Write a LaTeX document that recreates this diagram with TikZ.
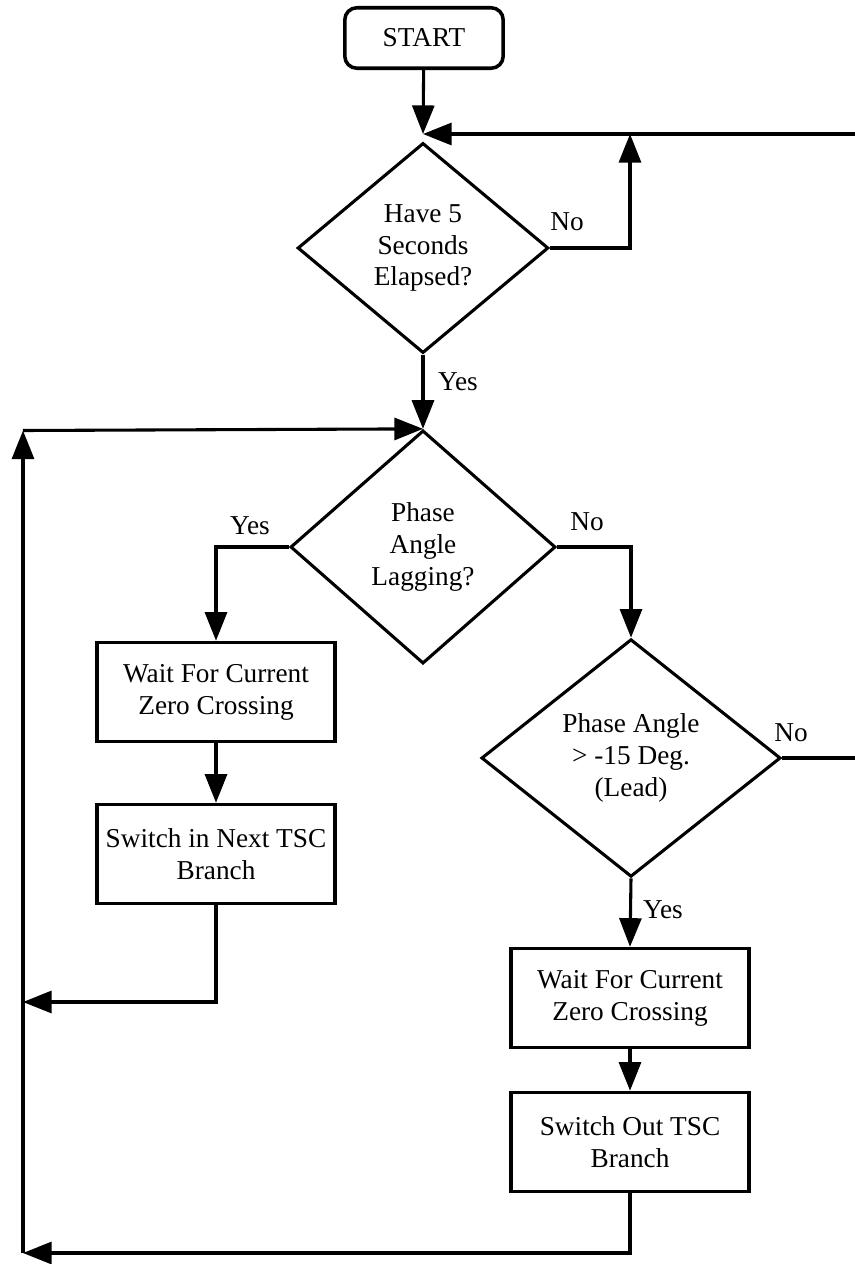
\documentclass[tikz,border=0pt]{standalone}
\usepackage{fontspec}
\setmainfont{Liberation Serif}
\usepackage{tikz}
\usetikzlibrary{arrows.meta}
\usetikzlibrary{shapes.geometric}
\usetikzlibrary{calc}

\tikzset{
    flow/.style={line width=1.4pt, -{Triangle[length=13pt,width=10pt]}},
    plain/.style={line width=1.4pt},
    process/.style={draw, line width=1.6pt, minimum width=108pt, minimum height=45pt, align=center, inner sep=0pt},
    decision/.style={draw, diamond, line width=1.4pt, align=center, inner sep=0pt},
    tag/.style={inner sep=0pt}
}

\begin{document}
\begin{tikzpicture}[x=0.4545pt, y=-0.4545pt, font=\fontsize{12.4}{14.5}\selectfont]
    \useasboundingbox (0,0) rectangle (855,1264);
    \node[process, rounded corners=5.5pt, minimum width=72pt, minimum height=27.5pt] (start) at (424,38) {START};
    \node[decision, minimum width=114pt, minimum height=95.5pt, aspect=1.19] (elapsed) at (423,248) {Have 5\\Seconds\\Elapsed?};
    \node[decision, minimum width=120.5pt, minimum height=106pt, aspect=1.14] (lagging) at (423,547) {Phase\\Angle\\Lagging?};
    \node[decision, minimum width=136pt, minimum height=108pt, aspect=1.26] (lead) at (631,758) {Phase Angle\\> -15 Deg.\\(Lead)};
    \node[process] (waitL) at (216,692) {Wait For Current\\Zero Crossing};
    \node[process] (switchIn) at (216,854) {Switch in Next TSC\\Branch};
    \node[process] (waitR) at (630,998) {Wait For Current\\Zero Crossing};
    \node[process] (switchOut) at (630,1142) {Switch Out TSC\\Branch};
    \node[tag] (no1) at (567,222) {No};
    \node[tag] (yes1) at (458,382) {Yes};
    \node[tag] (yes2) at (250,526) {Yes};
    \node[tag] (no2) at (587,522) {No};
    \node[tag] (no3) at (791,733) {No};
    \node[tag] (yes3) at (663,910) {Yes};
    \coordinate (j1) at (423,134);
    \coordinate (nj) at (630,134);
    \coordinate (rt) at (855,134);
    \coordinate (rb) at (855,758);
    \coordinate (lt) at (23,430.5);
    \coordinate (lb1) at (23,1002);
    \coordinate (lb2) at (23,1253);
    \draw[flow] (start) -- (j1);
    \draw[flow] (rt) -- (j1);
    \draw[flow] (elapsed.east) -| (nj);
    \draw[flow] (elapsed.south) -- (lagging.north);
    \draw[flow] (lagging.west) -| (waitL.north);
    \draw[flow] (lagging.east) -| (lead.north);
    \draw[flow] (waitL) -- (switchIn);
    \draw[flow] (switchIn.south) |- (lb1);
    \draw[flow] (lead.south) -- (waitR.north);
    \draw[flow] (waitR) -- (switchOut);
    \draw[flow] (switchOut.south) |- (lb2);
    \draw[flow] (lb2) -- (lt);
    \draw[flow] (lt) -- (lagging.north);
    \draw[plain] (lead.east) -- (rb);
\end{tikzpicture}
\end{document}
